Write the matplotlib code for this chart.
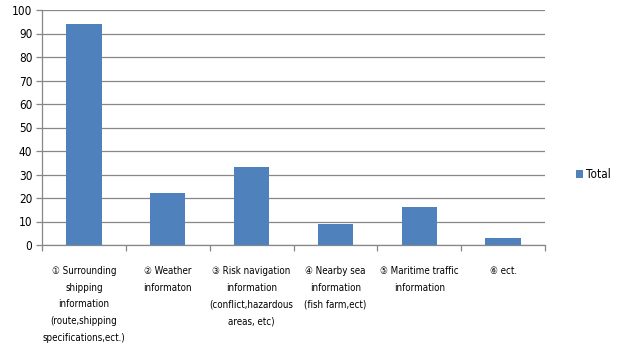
import matplotlib
matplotlib.use("Agg")
import matplotlib.pyplot as plt
import numpy as np

categories = [
    "① Surrounding\nshipping\ninformation\n(route,shipping\nspecifications,ect.)",
    "② Weather\ninformaton",
    "③ Risk navigation\ninformation\n(conflict,hazardous\nareas, etc)",
    "④ Nearby sea\ninformation\n(fish farm,ect)",
    "⑤ Maritime traffic\ninformation",
    "⑥ ect.",
]
values = [94, 22, 33, 9, 16, 3]
series_name = "Total"
yticks = [0, 10, 20, 30, 40, 50, 60, 70, 80, 90, 100]

fam = ["DejaVu Sans", "Noto Sans CJK KR"]
bar_color = "#4F81BD"
grid_color = "#878787"

fig = plt.figure(figsize=(6.19, 3.49), dpi=100)
ax = fig.add_axes([42/619, 1 - 245/349, (545-42)/619, (245-10)/349])

x = np.arange(len(categories))
ax.bar(x, values, width=0.42, color=bar_color, label=series_name, zorder=3)

ax.set_xlim(-0.5, len(categories) - 0.5)
ax.set_ylim(0, 100)
ax.set_yticks(yticks)
ax.set_yticklabels([str(v) for v in yticks], fontsize=8.5, family=fam,
                   fontstretch="condensed")
ax.yaxis.grid(True, color=grid_color, linewidth=0.9, zorder=0)
ax.set_axisbelow(True)

for s in ["top", "right"]:
    ax.spines[s].set_visible(False)
for s in ["left", "bottom"]:
    ax.spines[s].set_color(grid_color)
    ax.spines[s].set_linewidth(0.9)

ax.set_xticks(np.arange(len(categories) + 1) - 0.5)
ax.set_xticklabels([])
ax.tick_params(axis="x", which="major", length=4, color=grid_color, width=0.9)
ax.tick_params(axis="y", length=4, color=grid_color, width=0.9, pad=3)

ax.set_xticks(x, minor=True)
ax.set_xticklabels(categories, minor=True, fontsize=7, family=fam,
                   fontstretch="condensed",
                   linespacing=1.85, va="top", ha="center")
ax.tick_params(axis="x", which="minor", length=0, pad=15)

leg = ax.legend(loc="center left", bbox_to_anchor=(1.04, 0.3), frameon=False,
                handlelength=0.6, handleheight=0.6, handletextpad=0.3,
                prop={"family": fam, "size": 8.5, "stretch": "condensed"})

fig.savefig("out.png", dpi=100)
